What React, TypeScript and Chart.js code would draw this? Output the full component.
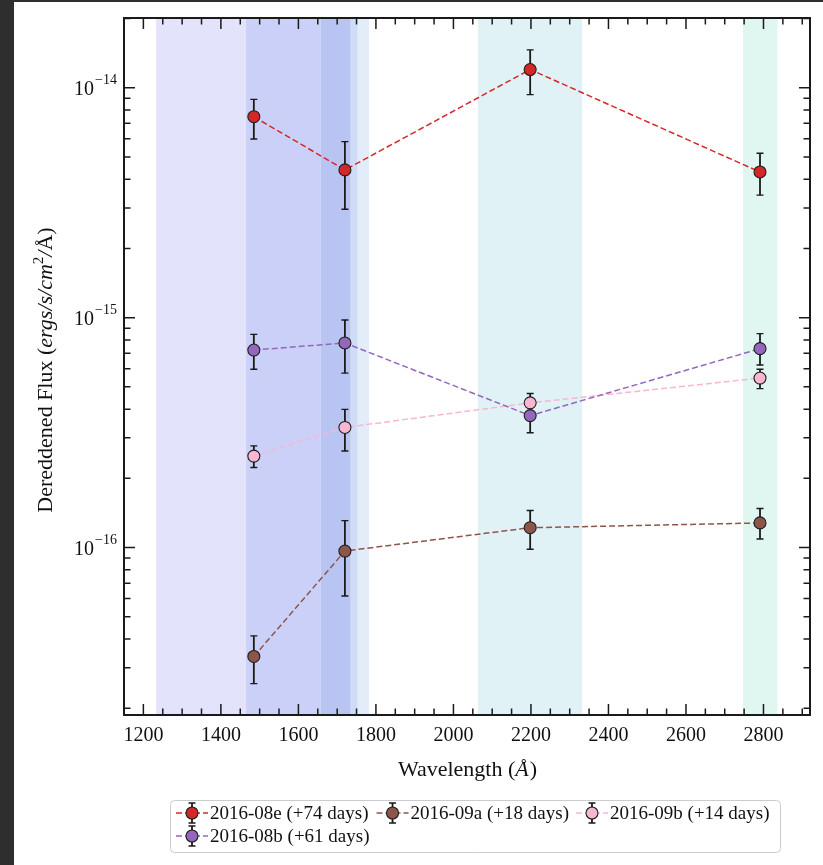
import React, { useEffect, useRef } from 'react';
import { Chart, registerables } from 'chart.js';

Chart.register(...registerables);

// ---------- data ----------
const wavelengths = [1485, 1720, 2198, 2791];

const seriesLabels = [
  '2016-08e (+74 days)',
  '2016-09a (+18 days)',
  '2016-09b (+14 days)',
  '2016-08b (+61 days)',
];

const flux08e = [7.48e-15, 4.39e-15, 1.2e-14, 4.3e-15];
const low08e = [5.98e-15, 2.96e-15, 9.33e-15, 3.41e-15];
const high08e = [8.9e-15, 5.83e-15, 1.46e-14, 5.19e-15];

const flux09a = [3.36e-17, 9.66e-17, 1.22e-16, 1.28e-16];
const low09a = [2.56e-17, 6.16e-17, 9.84e-17, 1.09e-16];
const high09a = [4.13e-17, 1.31e-16, 1.45e-16, 1.48e-16];

const flux09b = [2.5e-16, 3.33e-16, 4.26e-16, 5.46e-16];
const low09b = [2.23e-16, 2.63e-16, 3.89e-16, 4.91e-16];
const high09b = [2.77e-16, 3.99e-16, 4.68e-16, 5.96e-16];

const flux08b = [7.23e-16, 7.76e-16, 3.75e-16, 7.33e-16];
const low08b = [5.96e-16, 5.74e-16, 3.16e-16, 6.22e-16];
const high08b = [8.46e-16, 9.77e-16, 4.27e-16, 8.52e-16];

// shaded filter bands (wavelength ranges, Å)
const bandStarts = [1233, 1465, 1657, 1735, 1753, 2063, 2747];
const bandEnds = [1465, 1657, 1735, 1753, 1782, 2332, 2836];

const xTickValues = [1200, 1400, 1600, 1800, 2000, 2200, 2400, 2600, 2800];
const yTickExponents = [-14, -15, -16];

const xMin = 1150;
const xMax = 2920;
const yMin = 1.87e-17;
const yMax = 2.01e-14;

// ---------- styles ----------
const bandColors = ['#e3e3fb', '#cbd0f8', '#b8c4f2', '#cfdcf5', '#e2edf9', '#e0f2f6', '#e0f7f1'];
const seriesColors = ['#d62728', '#8c564b', '#f7b6d2', '#9467bd'];
const FONT = '"Liberation Serif", "Times New Roman", serif';

const seriesFlux = [flux08e, flux09a, flux09b, flux08b];
const seriesLow = [low08e, low09a, low09b, low08b];
const seriesHigh = [high08e, high09a, high09b, high08b];

function drawErrorBar(ctx: CanvasRenderingContext2D, x: number, yTop: number, yBot: number) {
  ctx.save();
  ctx.strokeStyle = '#1a1a1a';
  ctx.lineWidth = 1.8;
  ctx.setLineDash([]);
  ctx.beginPath();
  ctx.moveTo(x, yTop);
  ctx.lineTo(x, yBot);
  ctx.stroke();
  ctx.lineWidth = 1.4;
  ctx.beginPath();
  ctx.moveTo(x - 3.5, yTop);
  ctx.lineTo(x + 3.5, yTop);
  ctx.moveTo(x - 3.5, yBot);
  ctx.lineTo(x + 3.5, yBot);
  ctx.stroke();
  ctx.restore();
}

function drawMarker(ctx: CanvasRenderingContext2D, x: number, y: number, color: string) {
  ctx.save();
  ctx.beginPath();
  ctx.arc(x, y, 6, 0, Math.PI * 2);
  ctx.fillStyle = color;
  ctx.fill();
  ctx.lineWidth = 1.1;
  ctx.strokeStyle = '#1e1e1e';
  ctx.stroke();
  ctx.restore();
}

const decorPlugin = {
  id: 'decor',
  beforeDraw(chart: any) {
    const ctx: CanvasRenderingContext2D = chart.ctx;
    ctx.save();
    ctx.fillStyle = '#ffffff';
    ctx.fillRect(0, 0, chart.width, chart.height);
    ctx.fillStyle = '#2e2e2e';
    ctx.fillRect(0, 0, 14, chart.height);
    ctx.fillRect(0, 0, chart.width, 2);
    ctx.restore();
  },
  beforeDatasetsDraw(chart: any) {
    const ctx: CanvasRenderingContext2D = chart.ctx;
    const xs = chart.scales.x;
    const ys = chart.scales.y;
    const a = chart.chartArea;
    ctx.save();
    for (let i = 0; i < bandStarts.length; i++) {
      const x0 = xs.getPixelForValue(bandStarts[i]);
      const x1 = xs.getPixelForValue(bandEnds[i]);
      ctx.fillStyle = bandColors[i];
      ctx.fillRect(x0, a.top, x1 - x0, a.bottom - a.top);
    }
    ctx.restore();
    for (let s = 0; s < seriesFlux.length; s++) {
      for (let i = 0; i < wavelengths.length; i++) {
        const x = xs.getPixelForValue(wavelengths[i]);
        drawErrorBar(ctx, x, ys.getPixelForValue(seriesHigh[s][i]), ys.getPixelForValue(seriesLow[s][i]));
      }
    }
  },
  afterDraw(chart: any) {
    const ctx: CanvasRenderingContext2D = chart.ctx;
    const xs = chart.scales.x;
    const ys = chart.scales.y;
    const a = chart.chartArea;
    ctx.save();
    // ticks
    ctx.strokeStyle = '#1a1a1a';
    ctx.lineWidth = 1.5;
    ctx.beginPath();
    for (let v = Math.ceil(xMin / 50) * 50; v <= xMax; v += 50) {
      const x = xs.getPixelForValue(v);
      const len = v % 200 === 0 ? 11 : 6.5;
      ctx.moveTo(x, a.bottom);
      ctx.lineTo(x, a.bottom - len);
      ctx.moveTo(x, a.top);
      ctx.lineTo(x, a.top + len);
    }
    for (let e = -17; e <= -14; e++) {
      for (let m = 1; m <= 9; m++) {
        const v = m * Math.pow(10, e);
        if (v < yMin || v > yMax) continue;
        const y = ys.getPixelForValue(v);
        const len = m === 1 ? 11 : 6.5;
        ctx.moveTo(a.left, y);
        ctx.lineTo(a.left + len, y);
        ctx.moveTo(a.right, y);
        ctx.lineTo(a.right - len, y);
      }
    }
    ctx.stroke();
    // frame
    ctx.lineWidth = 2;
    ctx.strokeStyle = '#1a1a1a';
    ctx.strokeRect(a.left, a.top, a.right - a.left, a.bottom - a.top);

    // x tick labels
    ctx.fillStyle = '#111111';
    ctx.font = `20px ${FONT}`;
    ctx.textAlign = 'center';
    ctx.textBaseline = 'alphabetic';
    for (const v of xTickValues) {
      ctx.fillText(String(v), xs.getPixelForValue(v), a.bottom + 26);
    }
    // y tick labels
    for (const e of yTickExponents) {
      const y = ys.getPixelForValue(Math.pow(10, e));
      const expText = '\u2212' + String(Math.abs(e));
      ctx.font = `14px ${FONT}`;
      ctx.textAlign = 'right';
      const ew = ctx.measureText(expText).width;
      const right = a.left - 7;
      ctx.fillText(expText, right, y - 4);
      ctx.font = `20px ${FONT}`;
      ctx.fillText('10', right - ew - 1, y + 7);
    }
    // x title
    ctx.textAlign = 'left';
    const xt1 = 'Wavelength (';
    const xt2 = 'Å';
    const xt3 = ')';
    ctx.font = `22px ${FONT}`;
    const w1 = ctx.measureText(xt1).width;
    const w3 = ctx.measureText(xt3).width;
    ctx.font = `italic 22px ${FONT}`;
    const w2 = ctx.measureText(xt2).width;
    const cx = (a.left + a.right) / 2;
    let sx = cx - (w1 + w2 + w3) / 2;
    const ty = 776;
    ctx.font = `22px ${FONT}`;
    ctx.fillText(xt1, sx, ty);
    sx += w1;
    ctx.font = `italic 22px ${FONT}`;
    ctx.fillText(xt2, sx, ty);
    sx += w2 + 1;
    ctx.font = `22px ${FONT}`;
    ctx.fillText(xt3, sx, ty);

    // y title
    const parts = [
      { t: 'Dereddened Flux (', f: `22px ${FONT}`, dy: 0 },
      { t: 'ergs/s/cm', f: `italic 22px ${FONT}`, dy: 0 },
      { t: '2', f: `15px ${FONT}`, dy: -9 },
      { t: '/', f: `italic 22px ${FONT}`, dy: 0 },
      { t: 'Å', f: `22px ${FONT}`, dy: 0 },
      { t: ')', f: `22px ${FONT}`, dy: 0 },
    ];
    let total = 0;
    const widths: number[] = [];
    for (const p of parts) {
      ctx.font = p.f;
      const w = ctx.measureText(p.t).width;
      widths.push(w);
      total += w;
    }
    ctx.save();
    ctx.translate(52, 370);
    ctx.rotate(-Math.PI / 2);
    let px = -total / 2;
    parts.forEach((p, i) => {
      ctx.font = p.f;
      ctx.fillText(p.t, px, p.dy);
      px += widths[i];
    });
    ctx.restore();

    // legend
    const legFont = `19px ${FONT}`;
    ctx.font = legFont;
    const ncol = 3;
    const textOff = 34;
    const colX: number[] = [176];
    const colMax: number[] = [0, 0, 0];
    seriesLabels.forEach((l, i) => {
      const c = i % ncol;
      colMax[c] = Math.max(colMax[c], ctx.measureText(l).width);
    });
    for (let c = 1; c < ncol; c++) colX.push(colX[c - 1] + textOff + colMax[c - 1] + 7);
    const boxL = 170.5;
    const boxT = 800.5;
    const boxR = Math.round(colX[ncol - 1] + textOff + colMax[ncol - 1] + 10) + 0.5;
    const boxB = 852.5;
    ctx.beginPath();
    const r = 4;
    ctx.moveTo(boxL + r, boxT);
    ctx.lineTo(boxR - r, boxT);
    ctx.quadraticCurveTo(boxR, boxT, boxR, boxT + r);
    ctx.lineTo(boxR, boxB - r);
    ctx.quadraticCurveTo(boxR, boxB, boxR - r, boxB);
    ctx.lineTo(boxL + r, boxB);
    ctx.quadraticCurveTo(boxL, boxB, boxL, boxB - r);
    ctx.lineTo(boxL, boxT + r);
    ctx.quadraticCurveTo(boxL, boxT, boxL + r, boxT);
    ctx.closePath();
    ctx.fillStyle = 'rgba(255,255,255,0.8)';
    ctx.fill();
    ctx.strokeStyle = '#cccccc';
    ctx.lineWidth = 1;
    ctx.stroke();
    const rowY = [813, 836];
    seriesLabels.forEach((l, i) => {
      const c = i % ncol;
      const rr = Math.floor(i / ncol);
      const hx = colX[c];
      const hy = rowY[rr];
      ctx.save();
      ctx.strokeStyle = seriesColors[i];
      ctx.lineWidth = 1.5;
      ctx.setLineDash([6, 3]);
      ctx.beginPath();
      ctx.moveTo(hx, hy);
      ctx.lineTo(hx + 32, hy);
      ctx.stroke();
      ctx.restore();
      drawErrorBar(ctx, hx + 16, hy - 10, hy + 10);
      drawMarker(ctx, hx + 16, hy, seriesColors[i]);
      ctx.fillStyle = '#111111';
      ctx.font = legFont;
      ctx.textAlign = 'left';
      ctx.fillText(l, hx + textOff, hy + 6);
    });
    ctx.restore();
  },
};

export default function App() {
  const ref = useRef<HTMLCanvasElement | null>(null);
  useEffect(() => {
    if (!ref.current) return;
    const datasets = seriesFlux.map((vals, s) => ({
      label: seriesLabels[s],
      data: wavelengths.map((w, i) => ({ x: w, y: vals[i] })),
      borderColor: seriesColors[s],
      backgroundColor: seriesColors[s],
      borderWidth: 1.5,
      borderDash: [6, 3],
      pointRadius: 6,
      pointHoverRadius: 6,
      pointBackgroundColor: seriesColors[s],
      pointBorderColor: '#1e1e1e',
      pointBorderWidth: 1.1,
      tension: 0,
      order: 3 - s,
    }));
    const chart = new Chart(ref.current, {
      type: 'line',
      data: { datasets },
      options: {
        responsive: false,
        animation: false,
        devicePixelRatio: 1,
        layout: { padding: { left: 124, top: 18, right: 13, bottom: 150 } },
        plugins: { legend: { display: false }, tooltip: { enabled: false } },
        scales: {
          x: { type: 'linear', min: xMin, max: xMax, display: false },
          y: { type: 'logarithmic', min: yMin, max: yMax, display: false },
        },
      },
      plugins: [decorPlugin],
    });
    return () => chart.destroy();
  }, []);
  return (
    <canvas
      ref={ref}
      width={823}
      height={865}
      style={{ position: 'absolute', left: 0, top: 0, width: 823, height: 865, display: 'block' }}
    />
  );
}
